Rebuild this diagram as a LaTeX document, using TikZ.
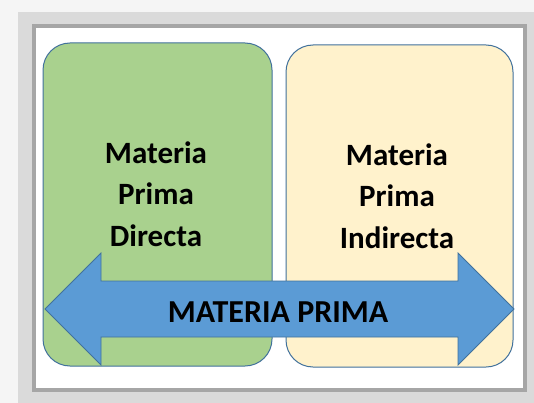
\documentclass[tikz,border=0pt]{standalone}
\usepackage{fontspec}
\setmainfont{Carlito}
\usepackage{tikz}

\definecolor{paper}{HTML}{F5F5F5}
\definecolor{shadelight}{HTML}{DADADA}
\definecolor{shadedark}{HTML}{A6A6A6}
\definecolor{greenbox}{HTML}{A9D18E}
\definecolor{beigebox}{HTML}{FFF2CC}
\definecolor{arrowblue}{HTML}{5B9BD5}
\definecolor{boxline}{HTML}{41719C}

\begin{document}
\begin{tikzpicture}[x=1pt, y=-1pt,
    box/.style={draw=boxline, line width=1pt, rounded corners=27pt},
    lbl/.style={font=\fontsize{31}{41.5}\selectfont\bfseries, align=center, text=black}]
    \useasboundingbox (0,0) rectangle (534,403);

    % Frame
    \fill[paper] (0,0) rectangle (534,403);
    \fill[shadelight] (18,12) rectangle (534,403);
    \fill[shadedark] (32,24) rectangle (527,392);
    \fill[white] (36,28) rectangle (523,388);

    % Boxes
    \draw[box, fill=greenbox] (43,43) rectangle (272,366);
    \draw[box, fill=beigebox] (286,45) rectangle (513,367);
    \node[lbl] (directa) at (156,194) {Materia\\Prima\\Directa};
    \node[lbl] (indirecta) at (397,196) {Materia\\Prima\\Indirecta};

    % Double arrow
    \draw[fill=arrowblue, draw=boxline, line width=0.8pt, line join=miter]
        (45,309) -- (101,253) -- (101,281) -- (458,281) -- (458,253)
        -- (514,309) -- (458,365) -- (458,337) -- (101,337) -- (101,365) -- cycle;
    \node[lbl, font=\fontsize{32}{38}\selectfont\bfseries] (prima) at (278,312) {MATERIA PRIMA};
\end{tikzpicture}
\end{document}
